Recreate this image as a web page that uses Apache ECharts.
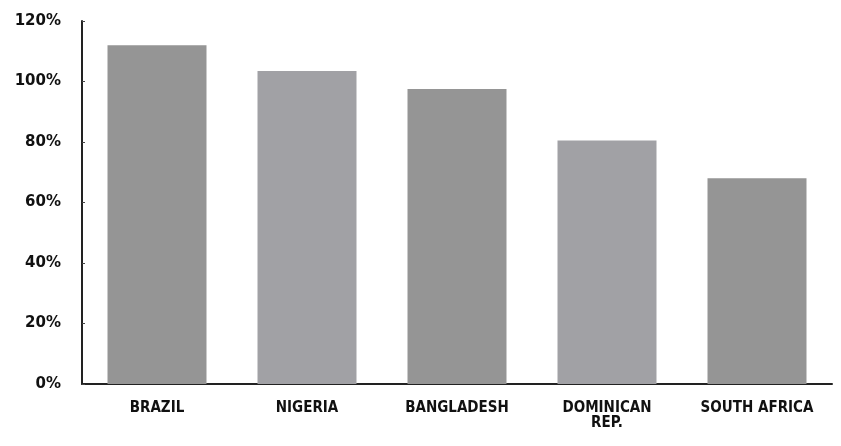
<!DOCTYPE html>
<html>
<head>
<meta charset="utf-8">
<script src="https://cdn.jsdelivr.net/npm/echarts@6/dist/echarts.min.js"></script>
<style>
  html, body { margin: 0; padding: 0; background: #fff; }
  #chart { width: 841px; height: 446px; }
</style>
</head>
<body>
<div id="chart"></div>
<script>
const countries = ['BRAZIL', 'NIGERIA', 'BANGLADESH', 'DOMINICAN\nREP.', 'SOUTH AFRICA']
const shares = [112, 103.5, 97.5, 80.5, 68]
const barColors = ['#959595', '#a1a1a5', '#959595', '#a1a1a5', '#959595']

const chart = echarts.init(document.getElementById('chart'))

chart.setOption({
  animation: false,
  grid: { left: 82, right: 9, top: 21, bottom: 62 },
  xAxis: {
    type: 'category',
    data: countries,
    axisLine: { lineStyle: { color: '#222', width: 2 } },
    axisTick: { show: false },
    axisLabel: {
      color: '#111',
      fontFamily: '"DejaVu Sans Condensed", "Liberation Sans", sans-serif',
      fontWeight: 'bold',
      fontSize: 15,
      margin: 17,
      lineHeight: 15,
      interval: 0,
    },
  },
  yAxis: {
    type: 'value',
    min: 0,
    max: 120,
    interval: 20,
    axisLine: { show: true, lineStyle: { color: '#222', width: 2 } },
    axisTick: { show: true, inside: true, length: 3, lineStyle: { color: '#444' } },
    splitLine: { show: false },
    axisLabel: {
      color: '#111',
      fontFamily: '"DejaVu Sans", sans-serif',
      fontWeight: 'bold',
      fontSize: 15,
      margin: 21,
      formatter: v => v + '%',
    },
  },
  series: [
    {
      type: 'bar',
      barWidth: '66%',
      data: shares.map((v, i) => ({ value: v, itemStyle: { color: barColors[i] } })),
    },
  ],
})
</script>
</body>
</html>
